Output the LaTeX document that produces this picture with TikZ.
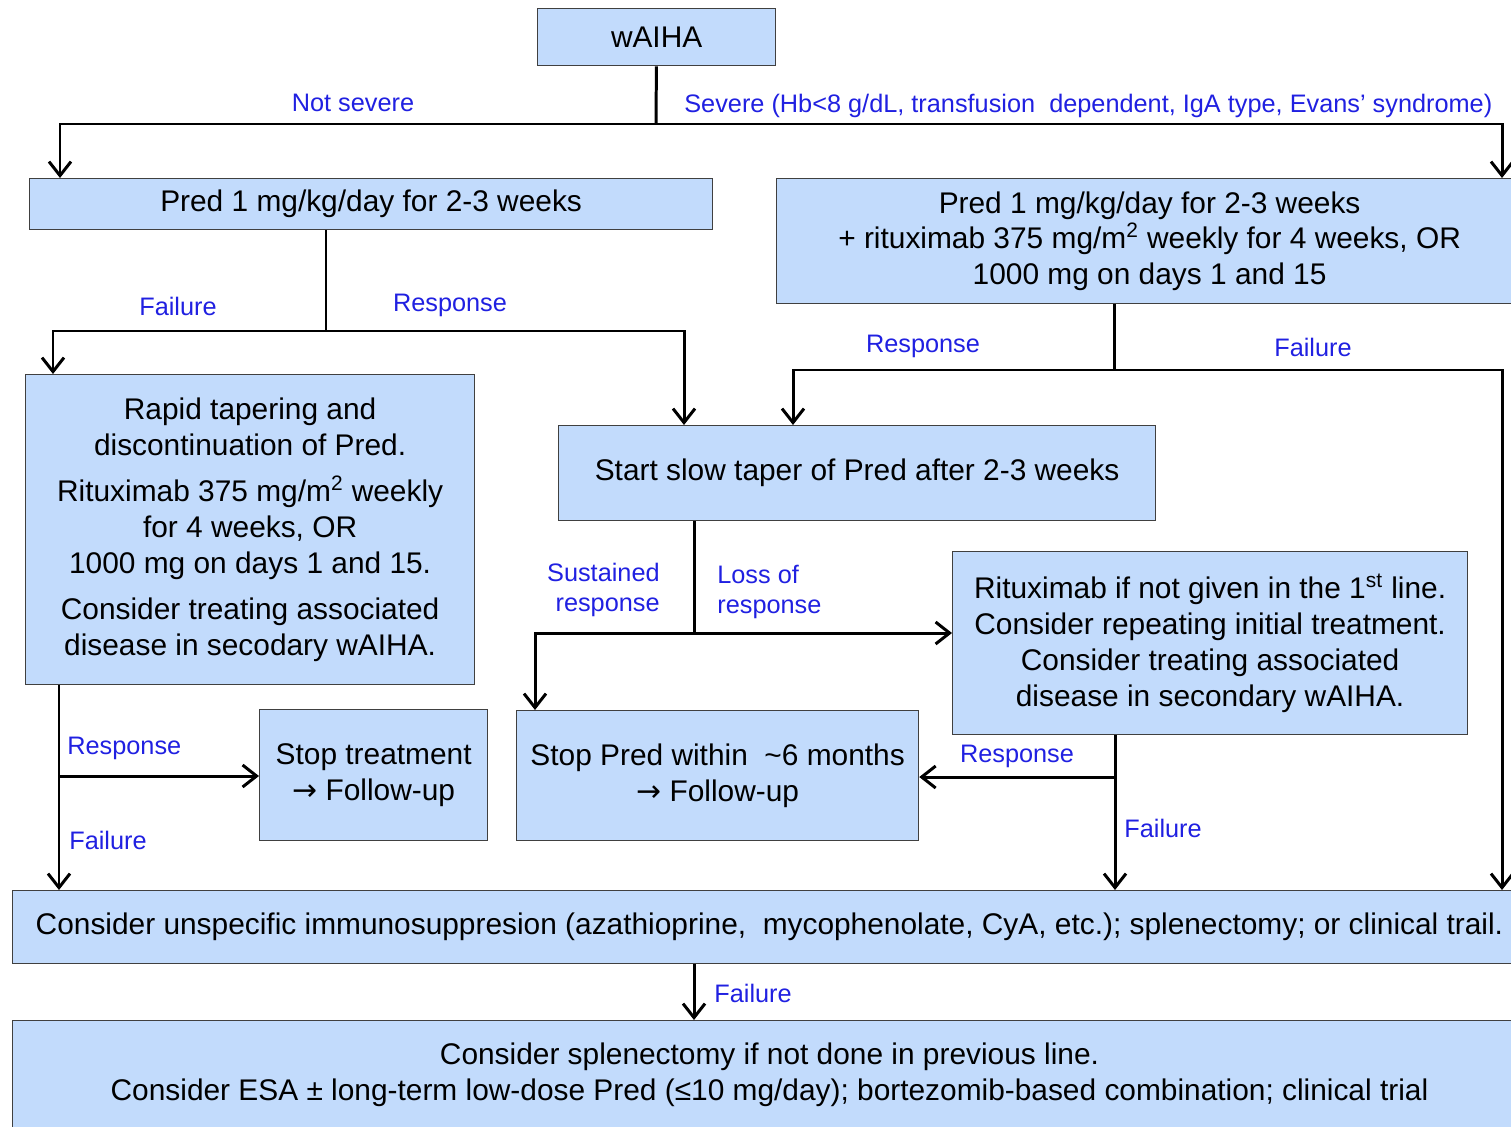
\documentclass[tikz,border=0pt]{standalone}
\usepackage{fontspec}
\setmainfont{Liberation Sans}
\newfontfamily\arrowfont{DejaVu Sans}
\usepackage{xcolor}
\usepackage{tikz}
\usetikzlibrary{arrows.meta, positioning, calc}

\definecolor{boxblue}{RGB}{194,219,252}
\definecolor{labelblue}{RGB}{32,32,225}
\newcommand{\stepfont}{\fontsize{17}{20.4}\selectfont}
\newcommand{\branchfont}{\fontsize{14.4}{17.5}\selectfont}
\newcommand{\followup}{{\arrowfont →}~Follow-up}

\begin{document}
\begin{tikzpicture}[x=0.02cm, y=-0.02cm]
% Define styles
\tikzstyle{stepbox} = [rectangle, anchor=north west, draw=black!75, line width=0.75pt, fill=boxblue, align=center, text centered, font=\stepfont, inner sep=2pt]
\tikzstyle{lab} = [text=labelblue, font=\branchfont, inner sep=0pt]
\tikzstyle{arrow} = [line width=1.7pt, -{Straight Barb[length=2.8mm, width=4.4mm]}]
\tikzstyle{line} = [line width=1.7pt, -]

\clip (0,0) rectangle (1511,1126);

% Nodes
\node (waiha) [stepbox, minimum width=4.76cm, minimum height=1.14cm] at (537,8) {wAIHA};
\node (pred1) [stepbox, minimum width=13.66cm, minimum height=1.02cm] at (29,178) {Pred 1 mg/kg/day for 2-3 weeks};
\node (predr) [stepbox, minimum width=14.92cm, minimum height=2.5cm] at (776,178) {Pred 1 mg/kg/day for 2-3 weeks\\ + rituximab 375 mg/m\textsuperscript{2} weekly for 4 weeks, OR\\ 1000 mg on days 1 and 15};
\node (rapid) [stepbox, minimum width=8.98cm, minimum height=6.2cm] at (25,374) {Rapid tapering and\\ discontinuation of Pred.\\[6pt] Rituximab 375 mg/m\textsuperscript{2} weekly\\ for 4 weeks, OR\\ 1000 mg on days 1 and 15.\\[6pt] Consider treating associated\\ disease in secodary wAIHA.};
\node (slow) [stepbox, minimum width=11.94cm, minimum height=1.9cm] at (558,425) {Start slow taper of Pred after 2-3 weeks};
\node (ritux) [stepbox, minimum width=10.3cm, minimum height=3.66cm] at (952,551) {Rituximab if not given in the 1\textsuperscript{st} line.\\ Consider repeating initial treatment.\\ Consider treating associated\\ disease in secondary wAIHA.};
\node (stoptreat) [stepbox, minimum width=4.56cm, minimum height=2.62cm] at (259,709) {Stop treatment\\ \followup};
\node (stoppred) [stepbox, minimum width=8.04cm, minimum height=2.6cm] at (516,710) {Stop Pred within~ \textasciitilde6 months\\ \followup};
\node (consider) [stepbox, minimum width=30.28cm, minimum height=1.46cm] at (12,890) {Consider unspecific immunosuppresion (azathioprine,~ mycophenolate, CyA, etc.); splenectomy; or clinical trail.};
\node (final) [stepbox, minimum width=30.28cm, minimum height=2.18cm] at (12,1020) {Consider splenectomy if not done in previous line.\\ Consider ESA ± long-term low-dose Pred (≤10 mg/day); bortezomib-based combination; clinical trial};

% Branch points
\coordinate (j0) at (656,124);
\coordinate (a1) at (60,124);
\coordinate (a2) at (1502,124);
\coordinate (j1) at (326,331);
\coordinate (b1) at (53,331);
\coordinate (b2) at (684,331);
\coordinate (j2) at (1114,370);
\coordinate (c1) at (793,370);
\coordinate (c2) at (1502,370);
\coordinate (j3) at (694,633);
\coordinate (d1) at (535,633);
\coordinate (j4) at (1115,777);
\coordinate (j5) at (59,776);

% Connections
\draw [line] (waiha) -- (j0);
\draw [arrow] (j0) -- (a1) -- (a1 |- pred1.north);
\draw [arrow] (j0) -- (a2) -- (a2 |- predr.north);
\draw [line] (pred1.south -| j1) -- (j1);
\draw [arrow] (j1) -- (b1) -- (b1 |- rapid.north);
\draw [arrow] (j1) -- (b2) -- (b2 |- slow.north);
\draw [line] (predr.south -| j2) -- (j2);
\draw [arrow] (j2) -- (c1) -- (c1 |- slow.north);
\draw [arrow] (j2) -- (c2) -- (c2 |- consider.north);
\draw [line] (slow.south -| j3) -- (j3);
\draw [arrow] (j3) -- (d1) -- (d1 |- stoppred.north);
\draw [arrow] (j3) -- (j3 -| ritux.west);
\draw [line] (ritux.south -| j4) -- (j4);
\draw [arrow] (j4) -- (j4 -| stoppred.east);
\draw [arrow] (j4) -- (j4 |- consider.north);
\draw [line] (rapid.south -| j5) -- (j5);
\draw [arrow] (j5) -- (j5 -| stoptreat.west);
\draw [arrow] (j5) -- (j5 |- consider.north);
\draw [arrow] (consider.south -| j3) -- (final.north -| j3);

% Branch labels
\node (lnotsev) [lab] at (353,103) {Not severe};
\node (lsev) [lab, anchor=west] at (684,106) {Severe (Hb<8 g/dL, transfusion~ dependent, IgA type, Evans’ syndrome)};
\node (lfail1) [lab] at (178,306) {Failure};
\node (lresp1) [lab] at (450,305) {Response};
\node (lresp2) [lab] at (923,346) {Response};
\node (lfail2) [lab] at (1313,347) {Failure};
\node (lsust) [lab, anchor=east, align=right] at (660,590) {Sustained\\ response};
\node (lloss) [lab, anchor=west, align=left] at (717,592) {Loss of\\ response};
\node (lresp3) [lab] at (1017,756) {Response};
\node (lfail3) [lab, anchor=west] at (1124,828) {Failure};
\node (lresp4) [lab, anchor=west] at (67,748) {Response};
\node (lfail4) [lab, anchor=west] at (69,840) {Failure};
\node (lfail5) [lab, anchor=west] at (714,993) {Failure};

\end{tikzpicture}
\end{document}
